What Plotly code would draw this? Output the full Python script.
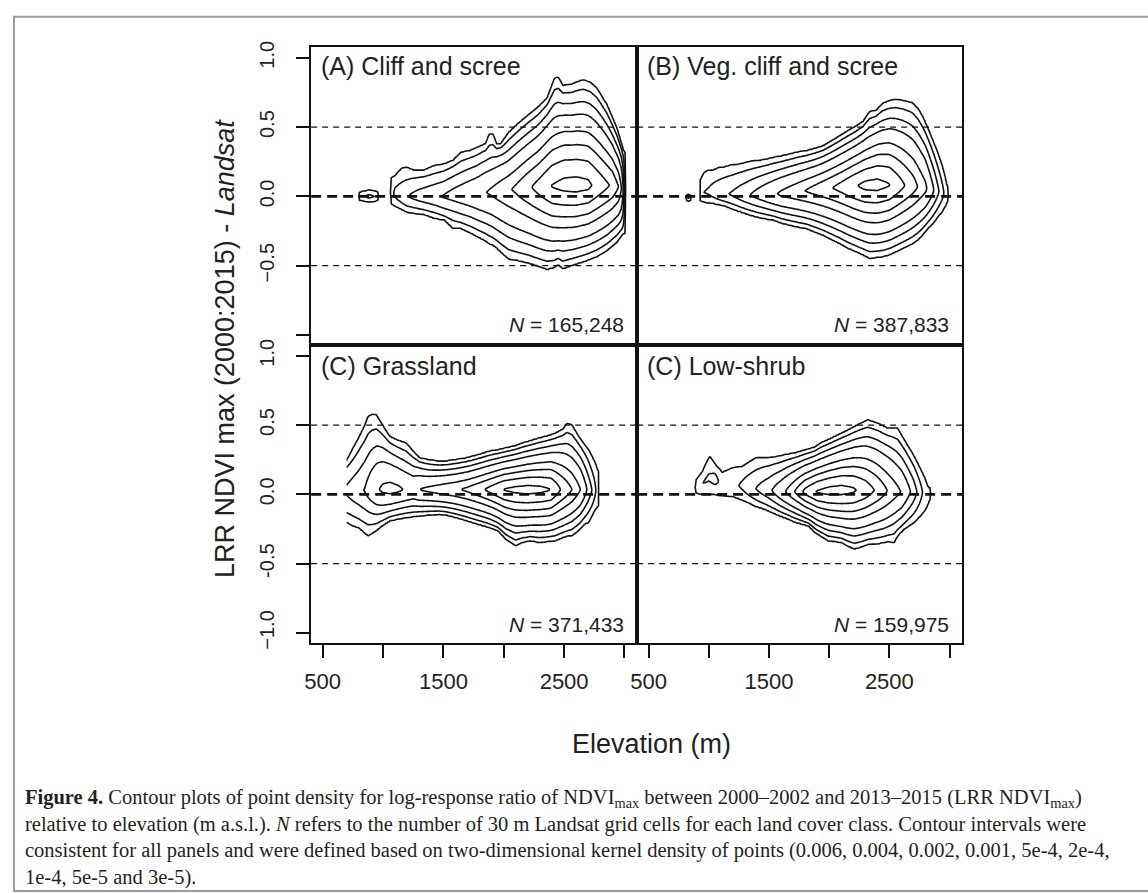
import numpy as np
import plotly.graph_objects as go

W, H = 1148, 893

# Contour levels (kernel density) from caption
levels = [3e-5, 5e-5, 1e-4, 2e-4, 5e-4, 1e-3, 2e-3, 4e-3, 6e-3]

# ===== Panel A: Cliff and scree =====
# density profile along the ridge
elev_a = [780, 830, 880, 930, 975, 1000, 1050, 1065, 1100, 1200, 1300, 1400, 1500, 1600, 1700,
          1800, 1900, 2000, 2100, 2200, 2300, 2400, 2500, 2600, 2700, 2800, 2900, 2950, 2975,
          2990, 3000, 3008, 3020]
logpeak_a = [-4.6, -4.4, -4.2, -4.3, -4.6, -5.0, -4.8, -4.45, -4.22, -4.01, -3.88, -3.78, -3.68,
             -3.57, -3.47, -3.37, -3.25, -3.10, -2.95, -2.76, -2.58, -2.39, -2.32, -2.30, -2.34,
             -2.55, -2.75, -3.0, -3.3, -3.7, -4.2, -4.6, -5.0]
ridge_a = [0.0, 0.0, 0.0, 0.0, 0.0, 0.0, 0.03, 0.03, 0.02, 0.0, 0.0, 0.0, 0.0, 0.01, 0.015,
           0.02, 0.035, 0.045, 0.055, 0.065, 0.07, 0.075, 0.08, 0.08, 0.08, 0.08, 0.08, 0.07,
           0.06, 0.05, 0.05, 0.05, 0.05]
# outermost contour (3e-5) upper / lower edge
env_elev_a = [780, 830, 880, 930, 975, 1000, 1050, 1065, 1100, 1150, 1192, 1250, 1343, 1420, 1508,
              1580, 1645, 1720, 1783, 1850, 1880, 1910, 1940, 1975, 2040, 2112, 2208, 2280, 2360,
              2420, 2450, 2490, 2552, 2620, 2662, 2720, 2771, 2854, 2936, 2991, 3020]
top_a = [0.02, 0.035, 0.045, 0.04, 0.02, 0.0, 0.10, 0.13, 0.15, 0.20, 0.21, 0.19, 0.19, 0.22,
         0.234, 0.26, 0.317, 0.33, 0.353, 0.38, 0.45, 0.45, 0.38, 0.377, 0.46, 0.52, 0.59, 0.64,
         0.71, 0.85, 0.86, 0.80, 0.805, 0.83, 0.84, 0.82, 0.78, 0.662, 0.495, 0.33, 0.30]
bottom_a = [-0.02, -0.03, -0.04, -0.035, -0.02, 0.0, -0.03, -0.05, -0.07, -0.09, -0.11, -0.12,
            -0.13, -0.155, -0.17, -0.23, -0.23, -0.26, -0.29, -0.32, -0.34, -0.35, -0.37, -0.40,
            -0.45, -0.46, -0.48, -0.50, -0.525, -0.51, -0.49, -0.52, -0.50, -0.48, -0.47, -0.45,
            -0.433, -0.39, -0.33, -0.266, -0.26]

# ===== Panel B: Veg. cliff and scree =====
elev_b = [800, 830, 860, 900, 935, 960, 1000, 1100, 1200, 1300, 1400, 1500, 1600, 1700, 1800,
          1900, 2000, 2100, 2200, 2300, 2400, 2500, 2600, 2700, 2800, 2870, 2912, 2953, 2989, 3010]
logpeak_b = [-4.7, -4.2, -4.7, -4.8, -4.45, -4.30, -4.25, -4.08, -3.96, -3.78, -3.60, -3.42,
             -3.25, -3.13, -3.0, -2.87, -2.74, -2.60, -2.44, -2.33, -2.31, -2.39, -2.63, -2.88,
             -3.23, -3.7, -4.0, -4.3, -4.52, -4.9]
ridge_b = [-0.01, -0.01, -0.01, -0.01, 0.02, 0.03, 0.03, 0.02, 0.015, 0.01, 0.012, 0.015, 0.02,
           0.03, 0.04, 0.05, 0.06, 0.068, 0.075, 0.08, 0.083, 0.083, 0.08, 0.075, 0.06, 0.045,
           0.035, 0.025, 0.01, 0.0]
env_elev_b = [800, 830, 860, 900, 915, 930, 960, 989, 1040, 1090, 1126, 1180, 1264, 1330, 1401,
              1470, 1538, 1600, 1676, 1740, 1813, 1880, 1950, 2020, 2088, 2150, 2225, 2280, 2335,
              2390, 2445, 2500, 2555, 2620, 2692, 2740, 2775, 2820, 2857, 2900, 2939, 2965, 2980,
              2992, 3010]
top_b = [0.0, 0.015, 0.0, 0.0, 0.0, 0.12, 0.17, 0.186, 0.19, 0.21, 0.21, 0.225, 0.233, 0.25,
         0.257, 0.265, 0.281, 0.29, 0.305, 0.32, 0.329, 0.345, 0.364, 0.40, 0.436, 0.47, 0.507,
         0.54, 0.61, 0.62, 0.67, 0.69, 0.698, 0.69, 0.674, 0.63, 0.579, 0.49, 0.412, 0.32, 0.22,
         0.13, 0.055, 0.0, 0.0]
bottom_b = [-0.02, -0.035, -0.02, -0.01, -0.02, -0.03, -0.04, -0.045, -0.05, -0.06, -0.064,
            -0.085, -0.11, -0.13, -0.148, -0.16, -0.17, -0.19, -0.207, -0.22, -0.231, -0.255,
            -0.279, -0.31, -0.338, -0.37, -0.398, -0.42, -0.445, -0.44, -0.433, -0.42, -0.398,
            -0.37, -0.34, -0.31, -0.279, -0.23, -0.2, -0.15, -0.11, -0.07, -0.04, -0.01, 0.0]

# ===== Panel C: Grassland =====
elev_c = [697, 750, 800, 850, 900, 950, 1000, 1060, 1120, 1180, 1250, 1302, 1400, 1500, 1600,
          1700, 1800, 1900, 2000, 2100, 2200, 2300, 2390, 2470, 2565, 2634, 2689, 2730, 2763,
          2785, 2810]
logpeak_c = [-3.95, -3.85, -3.78, -3.68, -3.50, -3.34, -3.24, -3.20, -3.24, -3.32, -3.40, -3.30,
             -3.22, -3.13, -3.05, -2.94, -2.78, -2.59, -2.39, -2.33, -2.30, -2.33, -2.40, -2.70,
             -3.0, -3.3, -3.7, -4.0, -4.3, -4.52, -4.9]
ridge_c = [0.03, 0.03, 0.03, 0.03, 0.035, 0.035, 0.035, 0.035, 0.035, 0.035, 0.035, 0.035,
           0.035, 0.035, 0.035, 0.035, 0.035, 0.035, 0.035, 0.035, 0.035, 0.035, 0.035, 0.035,
           0.035, 0.035, 0.035, 0.03, 0.03, 0.03, 0.03]
env_elev_c = [697, 750, 800, 850, 876, 910, 945, 986, 1055, 1120, 1192, 1250, 1302, 1400, 1467,
              1530, 1604, 1680, 1741, 1810, 1879, 1950, 2016, 2098, 2153, 2220, 2291, 2360, 2428,
              2490, 2524, 2565, 2620, 2675, 2703, 2758, 2785, 2810]
top_c = [0.24, 0.33, 0.41, 0.50, 0.56, 0.575, 0.572, 0.512, 0.417, 0.39, 0.369, 0.31, 0.262,
         0.245, 0.238, 0.24, 0.25, 0.26, 0.274, 0.29, 0.31, 0.32, 0.334, 0.35, 0.369, 0.385,
         0.405, 0.42, 0.44, 0.47, 0.512, 0.50, 0.417, 0.35, 0.322, 0.226, 0.15, 0.05]
bottom_c = [-0.20, -0.226, -0.24, -0.28, -0.297, -0.28, -0.26, -0.23, -0.19, -0.178, -0.166,
            -0.16, -0.154, -0.148, -0.142, -0.15, -0.166, -0.185, -0.202, -0.22, -0.238, -0.26,
            -0.321, -0.369, -0.345, -0.333, -0.345, -0.34, -0.333, -0.31, -0.30, -0.297, -0.26,
            -0.21, -0.202, -0.107, -0.08, 0.0]

# ===== Panel D: Low-shrub =====
elev_d = [870, 890, 950, 1000, 1050, 1110, 1200, 1280, 1400, 1500, 1600, 1700, 1800, 1900, 2000,
          2100, 2200, 2300, 2400, 2500, 2600, 2700, 2780, 2820, 2845, 2870]
logpeak_d = [-4.9, -4.45, -4.3, -4.25, -4.2, -4.4, -4.38, -4.25, -3.98, -3.78, -3.45, -3.06,
             -2.62, -2.38, -2.31, -2.30, -2.36, -2.52, -2.76, -3.05, -3.32, -3.82, -4.33, -4.45,
             -4.53, -4.9]
ridge_d = [0.05, 0.05, 0.08, 0.12, 0.11, 0.08, 0.07, 0.06, 0.04, 0.03, 0.02, 0.02, 0.02, 0.02,
           0.025, 0.03, 0.03, 0.03, 0.03, 0.025, 0.02, 0.02, 0.015, 0.01, 0.01, 0.0]
env_elev_d = [870, 893, 950, 975, 1008, 1050, 1112, 1195, 1277, 1332, 1387, 1469, 1497, 1579,
              1662, 1717, 1800, 1827, 1854, 1882, 1930, 1991, 2101, 2150, 2211, 2260, 2321, 2376,
              2403, 2486, 2541, 2568, 2623, 2706, 2774, 2802, 2815, 2843, 2870]
top_d = [0.06, 0.10, 0.17, 0.22, 0.274, 0.22, 0.155, 0.19, 0.20, 0.23, 0.262, 0.262, 0.262,
         0.274, 0.29, 0.298, 0.32, 0.325, 0.333, 0.34, 0.37, 0.393, 0.44, 0.46, 0.488, 0.51,
         0.536, 0.52, 0.512, 0.476, 0.476, 0.476, 0.393, 0.274, 0.155, 0.10, 0.06, 0.0, 0.0]
bottom_d = [0.04, 0.012, 0.0, 0.0, 0.0, 0.0, -0.01, -0.012, -0.04, -0.06, -0.085, -0.107, -0.12,
            -0.15, -0.178, -0.20, -0.22, -0.226, -0.25, -0.274, -0.30, -0.333, -0.345, -0.37,
            -0.393, -0.38, -0.36, -0.357, -0.355, -0.34, -0.345, -0.30, -0.25, -0.202, -0.14,
            -0.107, -0.08, -0.02, 0.0]

titles = ["(A) Cliff and scree", "(B) Veg. cliff and scree", "(C) Grassland", "(C) Low-shrub"]
n_labels = ["165,248", "387,833", "371,433", "159,975"]

x_labeled = [500, 1500, 2500]
x_unlabeled = [1000, 2000, 3000]
y_labeled_a = [-0.5, 0.0, 0.5, 1.0]
y_text_a = ["\u22120.5", "0.0", "0.5", "1.0"]
y_unlabeled_a = [-1.0]
y_labeled_c = [-1.0, -0.5, 0.0, 0.5, 1.0]
y_text_c = ["\u22121.0", "-0.5", "0.0", "0.5", "1.0"]
ref_lines = [-0.5, 0.0, 0.5]

caption_lines = [
    "<b>Figure 4.</b> Contour plots of point density for log-response ratio of NDVI<sub>max</sub> between 2000\u20132002 and 2013\u20132015 (LRR NDVI<sub>max</sub>)",
    "relative to elevation (m a.s.l.). <i>N</i> refers to the number of 30 m Landsat grid cells for each land cover class. Contour intervals were",
    "consistent for all panels and were defined based on two-dimensional kernel density of points (0.006, 0.004, 0.002, 0.001, 5e-4, 2e-4,",
    "1e-4, 5e-5 and 3e-5).",
]

# ---------------------------------------------------------------
L = np.log10(levels)
P_EXP = 1.25      # shape of the density fall-off away from the ridge
K_JAG = 3         # how fast the ragged outer edge fades toward inner contours
SMOOTH_N = 25     # smoothing window (grid columns) for the inner contours
ygrid = np.arange(-0.80, 1.0001, 0.01)
lev_ext = np.concatenate([[L[0] - 3.0], L, [L[-1] + 1.0]])
idx_ext = np.concatenate([[-2.0], np.arange(1, 10, dtype=float), [10.0]])
UU = np.linspace(0.0, 2.0, 801)


def smooth(a, n):
    pad = np.pad(a, n // 2, mode="edge")
    return np.convolve(pad, np.ones(n) / n, mode="valid")[:len(a)]


def level_fraction(s, w, ws):
    frac = np.minimum(UU, 1.0) ** K_JAG
    s_of_u = UU ** (1.0 / P_EXP) * (ws + (w - ws) * frac)
    s_of_u = np.maximum.accumulate(s_of_u)
    return np.interp(s, s_of_u, UU)


def density_field(elev, logpk, ridge, env_elev, top, bottom, step=8.0):
    x0 = min(elev[0], env_elev[0])
    x1 = max(elev[-1], env_elev[-1])
    xg = np.arange(x0, x1 + 0.01, step)
    pk = np.interp(xg, elev, logpk)
    r = np.interp(xg, elev, ridge)
    t = np.interp(xg, env_elev, top)
    b = np.interp(xg, env_elev, bottom)
    wu = np.maximum(t - r, 0.008)
    wd = np.maximum(r - b, 0.008)
    wus = np.maximum(smooth(wu, SMOOTH_N), 0.008)
    wds = np.maximum(smooth(wd, SMOOTH_N), 0.008)
    amp = pk - L[0]
    z = np.empty((len(ygrid), len(xg)))
    for j in range(len(xg)):
        s = ygrid - r[j]
        up = s >= 0
        if amp[j] > 0:
            u_up = level_fraction(np.abs(s), wu[j], wus[j])
            u_dn = level_fraction(np.abs(s), wd[j], wds[j])
            z[:, j] = pk[j] - amp[j] * np.where(up, u_up, u_dn)
        else:
            z[:, j] = pk[j] - 0.5 * np.abs(s) / np.where(up, wus[j], wds[j])
    idx = np.interp(z, lev_ext, idx_ext)
    return xg, np.round(idx, 3)


panels = [
    (elev_a, logpeak_a, ridge_a, env_elev_a, top_a, bottom_a),
    (elev_b, logpeak_b, ridge_b, env_elev_b, top_b, bottom_b),
    (elev_c, logpeak_c, ridge_c, env_elev_c, top_c, bottom_c),
    (elev_d, logpeak_d, ridge_d, env_elev_d, top_d, bottom_d),
]

fig = go.Figure()
axis_ids = [("x", "y"), ("x2", "y2"), ("x3", "y3"), ("x4", "y4")]
for (ax, ay), pdata in zip(axis_ids, panels):
    xg, zz = density_field(*pdata)
    fig.add_trace(go.Contour(
        x=xg, y=ygrid, z=zz, xaxis=ax, yaxis=ay,
        contours=dict(coloring="lines", start=1, end=9, size=1, showlabels=False),
        colorscale=[[0, "#111111"], [1, "#111111"]],
        line=dict(width=1.6, smoothing=0.7),
        showscale=False, hoverinfo="skip",
    ))

# geometry (pixels)
XL, XM, XR = 306, 634, 961
YT, YM, YB = 42, 344, 646


def px(x):
    return x / W


def py(y):
    return 1 - y / H


xr = [404, 3105]
yr = [-1.075, 1.075]
FONT = "Liberation Sans, Arial, Helvetica, sans-serif"

common_x = dict(range=xr, showgrid=False, zeroline=False, showline=True, mirror=True,
                linecolor="#111", linewidth=1.6)
common_y = dict(range=yr, showgrid=False, zeroline=False, showline=True, mirror=True,
                linecolor="#111", linewidth=1.6)

tick_style = dict(ticks="outside", ticklen=13, tickwidth=1.5, tickcolor="#111")
xt = dict(**tick_style, tickvals=x_labeled, ticktext=[str(v) for v in x_labeled],
          ticklabelstandoff=4, tickfont=dict(family=FONT, size=22, color="#222"),
          minor=dict(tickvals=x_unlabeled, **tick_style))
nox = dict(ticks="", showticklabels=False)
yt_a = dict(**tick_style, tickvals=y_labeled_a, ticktext=y_text_a, tickangle=-90,
            ticklabelstandoff=14, tickfont=dict(family=FONT, size=20, color="#222"),
            minor=dict(tickvals=y_unlabeled_a, **tick_style))
yt_c = dict(**tick_style, tickvals=y_labeled_c, ticktext=y_text_c, tickangle=-90,
            ticklabelstandoff=14, tickfont=dict(family=FONT, size=20, color="#222"))
noy = dict(ticks="", showticklabels=False)

fig.update_layout(
    xaxis=dict(domain=[px(XL), px(XM)], anchor="y", **common_x, **nox),
    yaxis=dict(domain=[py(YM), py(YT)], anchor="x", **common_y, **yt_a),
    xaxis2=dict(domain=[px(XM), px(XR)], anchor="y2", **common_x, **nox),
    yaxis2=dict(domain=[py(YM), py(YT)], anchor="x2", **common_y, **noy),
    xaxis3=dict(domain=[px(XL), px(XM)], anchor="y3", **common_x, **xt),
    yaxis3=dict(domain=[py(YB), py(YM)], anchor="x3", **common_y, **yt_c),
    xaxis4=dict(domain=[px(XM), px(XR)], anchor="y4", **common_x, **xt),
    yaxis4=dict(domain=[py(YB), py(YM)], anchor="x4", **common_y, **noy),
)

shapes = []
for ax, ay in axis_ids:
    for yv in ref_lines:
        if yv == 0.0:
            ln = dict(color="#111", width=2.6, dash="10px,6px")
        else:
            ln = dict(color="#111", width=1.3, dash="6px,5px")
        shapes.append(dict(type="line", xref=f"{ax} domain", x0=0, x1=1, yref=ay, y0=yv, y1=yv,
                           line=ln, layer="above"))
# outer grey frame (right and bottom edges run off the picture)
shapes.append(dict(type="rect", xref="paper", yref="paper", x0=px(7), x1=px(1152),
                   y0=py(897), y1=py(11), line=dict(color="#9a9a9a", width=2)))

annotations = []
title_pos = [(314, 61), (642, 61), (314, 365), (642, 365)]
n_pos = [(623, 323), (950, 323), (623, 627), (950, 627)]
for t, (tx, ty) in zip(titles, title_pos):
    annotations.append(dict(text=t, x=px(tx), y=py(ty), xref="paper", yref="paper",
                            xanchor="left", yanchor="middle", showarrow=False,
                            font=dict(family=FONT, size=25, color="#222")))
for n, (nx, ny) in zip(n_labels, n_pos):
    annotations.append(dict(text=f"<i>N</i> = {n}", x=px(nx), y=py(ny), xref="paper", yref="paper",
                            xanchor="right", yanchor="middle", showarrow=False,
                            font=dict(family=FONT, size=21, color="#222")))
annotations.append(dict(text="LRR NDVI max (2000:2015) - <i>Landsat</i>", x=px(220), y=py(347),
                        xref="paper", yref="paper", textangle=-90, showarrow=False,
                        xanchor="center", yanchor="middle",
                        font=dict(family=FONT, size=27, color="#222")))
annotations.append(dict(text="Elevation (m)", x=px(648), y=py(748), xref="paper", yref="paper",
                        showarrow=False, xanchor="center", yanchor="middle",
                        font=dict(family=FONT, size=27, color="#222")))
annotations.append(dict(text="<br>".join(caption_lines), x=px(16), y=py(843),
                        xref="paper", yref="paper", showarrow=False,
                        xanchor="left", yanchor="middle", align="left",
                        font=dict(family="Liberation Serif, Times New Roman, serif",
                                  size=20.5, color="#231f20")))

fig.update_layout(
    width=W, height=H, margin=dict(l=0, r=0, t=0, b=0),
    paper_bgcolor="white", plot_bgcolor="white", showlegend=False,
    shapes=shapes, annotations=annotations,
)

fig.write_html("out.html", config={"displayModeBar": False},
               post_script="document.body.style.margin='0';document.body.style.overflow='hidden';")
